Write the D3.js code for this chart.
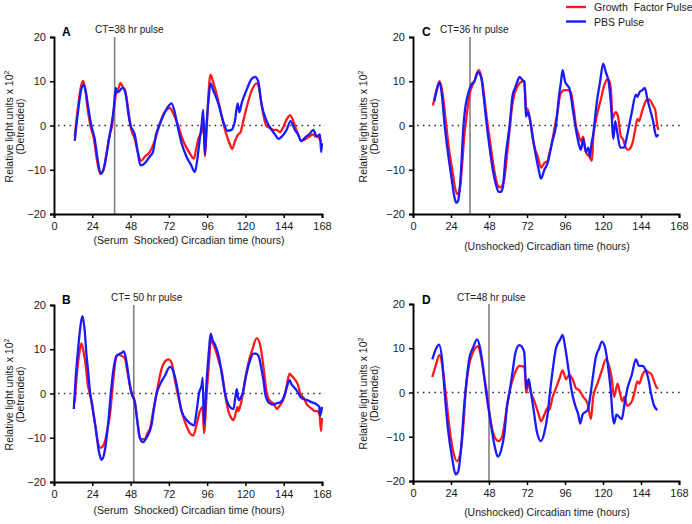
<!DOCTYPE html>
<html><head><meta charset="utf-8">
<script src="https://cdn.jsdelivr.net/npm/d3@7"></script>
<style>
html,body{margin:0;padding:0;background:#fff;}
svg{display:block;font-family:"Liberation Sans",Arial,sans-serif;}
text{white-space:pre;}
</style></head>
<body><svg id="chart" width="692" height="524"></svg>
<script>
const seriesNames = ["Growth  Factor Pulse", "PBS Pulse"];
const seriesColors = ["#ff1a1a", "#1a1aff"];
const xTicks = [0, 24, 48, 72, 96, 120, 144, 168];
const yTicks = [-20, -10, 0, 10, 20];

const aGrowth = [[13,-2.4],[15,4],[17,9],[18.2,10.1],[19.5,8.5],[21,4],[22.8,0],[25,-3],[27,-8],[29,-10.9],[31,-10],[33,-6],[35,-2],[36.4,0],[38,5],[39,7.5],[40.5,8.5],[41.6,9.6],[43,8.8],[44.5,8],[46,5],[47.5,1],[48.5,-1],[50.6,-3],[52.5,-6],[54.6,-8],[57,-7],[60,-6],[62,-4.5],[63.5,-3],[66,0],[68.5,2.5],[70.5,3.5],[72.6,4],[75,2.5],[77.8,0],[80,-2.5],[83,-5],[85.5,-6.5],[87.7,-7.5],[89,-5.5],[90.5,-3],[92.5,-1.5],[93.8,0],[94.6,-7],[95.5,-2],[96.5,5],[98.1,11.5],[100,9.5],[102,7],[104,4],[106.5,0],[108.5,-2.5],[110,-4],[111.7,-5.3],[113.5,-3.5],[115.5,-2],[117,-1.5],[118,0],[120.7,4],[124,8],[127,9.5],[128.5,8.5],[130,5],[131.5,2],[133,0],[135,-0.5],[137.4,-1],[139.5,-1],[141.6,-1.5],[143.5,-0.5],[146,1.5],[148,2.3],[149.5,1.5],[151,0],[153,-2],[155,-3.5],[158,-3],[160,-2.5],[162.5,-2],[164,-2.5],[165.7,-2.5],[167,-3.5],[168,-3.5]];
const aPBS = [[13,-3.5],[15,3],[17,8],[18.6,9.2],[20,7.5],[21.5,4],[23.4,0],[25.5,-3],[27.5,-8],[29.3,-10.9],[31,-10],[33,-6.5],[34.5,-3],[36,0],[37.5,4],[38.7,8.5],[39.5,7.5],[41,7.8],[43,8.5],[45,7],[46.5,3],[48,0],[50.6,-2],[52.5,-6],[54.2,-9],[57,-8.5],[60,-7],[62,-6],[64,-2],[66,0],[69.5,3],[72,4.5],[73.6,5],[75.7,3],[77.4,0],[80,-4],[83,-7],[86,-9],[88.3,-10.5],[89.7,-8],[91.4,-3],[92.5,0],[93.5,3.5],[94.6,-6.5],[95.6,0],[96.7,5],[98.1,9.5],[99.8,8],[103,5],[106,1],[108.8,-1.2],[111.3,-1],[113.4,1],[115.1,5],[116.2,3],[117.6,5],[120.7,8],[123.8,10.5],[126,11],[128,10],[130,5],[133.3,1],[136.4,-1],[138.5,-2],[140.6,-3],[142.8,-2.5],[145.8,-1],[148.3,1],[151,-1],[153,-2],[155,-3.5],[158,-2.5],[160,-2],[162.5,-1],[164.8,-2.5],[166.7,-2],[167.5,-6],[168,-4]];

const bGrowth = [[13,-2],[14.5,5],[16,9.5],[17.2,11.3],[18.5,9.5],[20,6],[21.2,2],[22.4,0],[24,-2.5],[25,-5],[26,-7.5],[27,-10],[29.1,-12.3],[30.5,-12],[31.8,-11],[33.5,-8],[35,-5],[36.4,0],[37.7,5],[39.2,8.5],[41,8.8],[42.3,8.5],[44.4,8],[45.5,6],[46.5,4],[48,1],[49,0],[50.7,-2],[52.2,-6],[53.8,-10],[55.5,-10.3],[57,-10.3],[58.5,-9],[60.1,-8],[62.2,-4],[64.3,0],[66.4,4],[67.8,6],[69.1,7],[71.6,7.7],[73.7,7],[75.8,3],[77.5,0],[80,-4],[82.7,-7],[85.3,-9],[87.3,-9.5],[89.4,-7],[91.5,-4],[93.2,-3],[94,-9],[95.7,0],[97.4,8],[98.2,12],[100,11],[102,9],[103.5,7],[105.2,5],[107.2,0],[109.3,-4],[111,-5.5],[112.5,-6],[113.5,-5],[114.2,-4],[115,-3],[115.6,-4],[117,-2.5],[118.4,0],[120.2,4],[121.9,7],[124.4,10],[127.1,12.5],[129.2,11],[131.3,6],[133.4,0],[135,-1.5],[136.6,-2],[138,-2.5],[139.7,-3.5],[141,-3],[142.9,-2],[145,0],[146.5,3],[147.7,4.5],[149,4],[150.2,3.5],[152.9,2],[154.4,0],[156.5,-1],[158.6,-2.5],[160,-3],[161.7,-3.5],[163.8,-4],[165,-4],[166.5,-5],[167.4,-8.5],[168,-5.5]];
const bPBS = [[12.4,-3.5],[13.5,3],[15.1,10],[16.5,15],[17.8,17.5],[19.3,14],[20.3,9],[21.4,5],[22.4,1],[24,-3],[26.2,-8],[28.1,-13],[29.7,-15],[30.8,-14.5],[31.8,-13],[33.9,-7],[35.6,0],[37.1,5],[39.2,8.5],[41.3,9],[42.5,9.2],[43.8,9.5],[45.5,7],[47.1,3],[48.6,0],[50.7,-2],[52.5,-7],[53.8,-10],[55.9,-11],[58,-10],[61.2,-7],[62.8,-3],[64.3,0],[66.4,2],[69.5,4],[72.7,6],[74.8,5],[76.9,2],[77.9,0],[80,-4],[83.2,-6],[86.3,-7],[87.8,-7.2],[89.4,-4],[90.9,0],[92.6,2],[93.2,3.5],[94,-7],[95.7,3],[97.2,10],[98.2,13.5],[99.5,12],[101,11],[103.5,8],[105.8,3],[107.2,0],[109.3,-2.5],[111,-3.3],[112.5,-3.5],[113.6,-1],[114.6,1],[115.4,-1],[116,-1.5],[117,-1],[118.2,0],[120.4,4],[122.5,7],[125,9],[126.5,9],[128.2,8.5],[129.8,6],[131.3,3],[132.4,0],[134.5,-2],[137.6,-2.5],[139.5,-2.2],[141.8,-2],[143.9,-1],[146,1.5],[147.7,3],[149,2],[150.2,1.5],[152.5,0.5],[155,-1],[158.6,-1.5],[161.7,-2],[164.8,-2.5],[166.2,-3],[166.9,-5],[168,-3]];

const cGrowth = [[12.6,4.5],[14.5,7.5],[16.8,10],[18.8,7],[21,0],[23,-6],[24.8,-10],[26.5,-14],[28,-15.5],[29.5,-14.5],[31,-9],[32.5,-2],[33.5,1],[35.7,7],[37.5,9],[38.8,10],[40,11.5],[41.6,12.5],[42.8,11.5],[43.7,10],[44.8,7],[45.8,4],[47.2,0],[48.8,-4],[50.4,-8],[52,-11.5],[53.5,-13.5],[55,-14],[56.5,-13.5],[57.7,-12],[59,-8],[59.9,-5],[61.3,0],[62.5,4],[64,7],[65.5,8.5],[67.2,9.5],[69.3,10],[70.3,9.8],[71,6],[71.4,3],[72.2,3.8],[73,3],[74.1,1],[75.6,-3],[77.2,-5.5],[78.8,-7],[80.8,-9.5],[82,-9],[83,-8.5],[85,-8],[86,-6.5],[87.1,-5],[89.2,-1],[91.3,3],[93,7],[95.5,8],[97.6,8],[99.7,7.5],[101,5],[101.8,3],[102.9,0],[104.5,-2],[106,-3.5],[107.5,-2.5],[108.2,-4],[109.2,-6],[111.3,-7],[113,-8],[113.8,-3],[116,2],[118.7,6],[120.7,9],[122.9,10.5],[124,10],[125,8],[126,1.5],[127,2.5],[128,3],[129.5,2],[131.3,-2.5],[132.5,-3],[134.4,-5],[136,-5.5],[138.6,-4],[140.3,-1],[141.7,1.5],[142.8,1],[144.5,3],[146.4,5],[148,6],[150.2,5.5],[151.6,4.5],[153,3.5],[154.3,0],[155,-1]];
const cPBS = [[13.5,5.5],[15,8],[16.8,9.8],[18.5,6],[20,0],[22,-6],[24,-11],[25.8,-15.5],[27.3,-17.5],[28.5,-17],[30,-12],[31.9,0],[33,4],[34.7,7],[36,8.5],[37.4,9.5],[38.8,10],[41,12],[43,11],[44.5,7],[45.4,4],[46.6,0],[48,-4],[50.4,-10],[52.5,-13.5],[54,-15],[55.5,-15],[56.7,-14],[58.5,-7],[61,0],[63,7],[64.5,8.5],[66,10],[67.2,11],[69.3,10.2],[70.3,10],[71,5],[71.4,2],[72.6,3],[74.5,0],[76.7,-5],[79.4,-10],[80.8,-12],[83,-10],[85,-8.5],[87.7,-4],[90.3,0],[92,6],[93.5,10],[94.5,12.5],[96,10],[97.6,9],[98.7,8.5],[101.2,3],[102.5,0],[104,-3],[106,-5.5],[107.5,-3],[109.2,-6],[110.7,-5],[111.7,-7],[112.8,-4],[113.8,-2],[116,5],[118.2,10],[120.1,14],[121.8,12],[123.5,10],[125,5],[126.6,-3],[127.7,1],[129.2,-2],[130.9,-5],[133.3,-5],[134.8,-3],[136.5,0],[138.2,3],[140.7,7],[141.8,6.5],[143,7.5],[144.9,8],[146.4,8.5],[148,6],[150.2,3],[151.6,1],[153.7,-2.5],[155,-2]];

const dGrowth = [[12.2,3.5],[14.3,6],[16.8,8.5],[18.9,5],[20.6,0],[22.7,-7],[25.2,-13],[27.7,-15.5],[29.8,-14],[31.9,-7],[33.2,0],[35.3,6],[37.8,9],[41,10.5],[43,8],[45.2,3],[46.6,0],[49.3,-7],[51.5,-10],[54,-11],[56.3,-10],[57.8,-7],[59.4,-3],[60.9,0],[63,3],[65.1,5],[67.2,6],[70.3,5.8],[71,3],[71.4,0],[73.1,2],[74.5,0],[76.7,-2],[79.4,-5],[80.8,-6.5],[83,-5],[85,-3.5],[86,-4],[88.2,-1],[90.3,1],[92.4,3],[94.5,5],[96.6,3],[98.7,4],[100.8,3],[102.9,1],[105,0.5],[107.5,-1],[110.3,-2.5],[112.4,-6],[113.8,-1],[116.5,2],[119.3,5],[121.8,7.5],[123.9,6],[125.6,3],[127,-1],[129.2,2],[130.6,0],[132.3,-2],[133.4,-1],[135.4,-3],[138.2,-2],[139.9,0],[141.7,2.5],[142.8,2],[144.9,4],[147,5],[149.1,4.5],[150.8,4],[152.3,2.5],[154.3,1],[155,1]];
const dPBS = [[12.2,7.5],[14.7,10],[16.4,10.8],[18.5,7],[20,0],[22,-8],[24.8,-15],[26.9,-18.5],[28.4,-18],[30.5,-12],[32.1,-4],[33.6,2],[35.7,8],[37.8,10],[40.5,12],[42.4,10],[44.5,5],[46.2,0],[48.3,-5],[51.5,-12],[53.6,-14.5],[55.7,-13],[57.8,-9],[59.4,-3],[60.9,0],[63,5],[64.7,9],[67.2,10.7],[69.3,10],[70.3,9],[71.4,1],[73.1,3],[74.5,0],[76.2,-4],[78.3,-9],[80.8,-11],[83,-9],[85,-5],[86.5,0],[88.2,5],[90.3,10],[93,12],[94.5,13],[96.2,10],[98.3,5],[100.4,0],[102.5,-3],[104.4,-5],[105.6,-7],[107.1,-5],[108.5,-4.5],[110.3,-4],[111.9,-1],[113.4,3],[115.5,8],[117.6,10],[119.3,11.5],[121.4,10],[123.5,5],[125,0],[126,-5],[127,-7],[128.5,-5],[130.2,-5.5],[131.9,-6],[133.4,-3],[135.5,1],[138.2,4],[140.7,7.5],[142.8,6],[144.9,6],[147,5],[148.7,3],[150.2,0],[152.3,-3],[154.3,-4]];

const panelLetters = ["A", "B", "C", "D"];
const pulseTimes = [38, 50, 36, 48];
const pulseLabels = ["CT=38 hr pulse", "CT= 50 hr pulse", "CT=36 hr pulse", "CT=48 hr pulse"];
const xTitles = ["(Serum  Shocked) Circadian time (hours)", "(Serum  Shocked) Circadian time (hours)", "(Unshocked) Circadian time (hours)", "(Unshocked) Circadian time (hours)"];
const panelSeries = [[aGrowth, aPBS], [bGrowth, bPBS], [cGrowth, cPBS], [dGrowth, dPBS]];

// layout (pixel boxes)
const boxes = [
  {x0: 54, x1: 322, y0: 37, y1: 214, labX: 95, letX: 62, ytX: 13, xtDy: 30, pulseLabY: 33},
  {x0: 54, x1: 322, y0: 305, y1: 482, labX: 111, letX: 62, ytX: 13, xtDy: 32, pulseLabY: 301},
  {x0: 413, x1: 679, y0: 37, y1: 214, labX: 440, letX: 422, ytX: 367, xtDy: 36, pulseLabY: 33},
  {x0: 413, x1: 679, y0: 304, y1: 481, labX: 457, letX: 422, ytX: 367, xtDy: 35, pulseLabY: 301}
];

const textColor = "#1a1a1a";
const svg = d3.select("#chart");

boxes.forEach((b, i) => {
  const x = d3.scaleLinear().domain([0, 168]).range([b.x0, b.x1]);
  const y = d3.scaleLinear().domain([-20, 20]).range([b.y1, b.y0]);
  const g = svg.append("g");

  // zero dotted line
  g.append("line").attr("x1", x(0) + 4).attr("x2", x(168) + 3)
    .attr("y1", y(0)).attr("y2", y(0))
    .attr("stroke", "#333").attr("stroke-width", 1.6).attr("stroke-dasharray", "1.6,4.2");

  // pulse line
  g.append("line").attr("x1", x(pulseTimes[i])).attr("x2", x(pulseTimes[i]))
    .attr("y1", y(20)).attr("y2", y(-20))
    .attr("stroke", "#808080").attr("stroke-width", 1.6);

  // series
  const line = d3.line().x(d => x(d[0])).y(d => y(d[1])).curve(d3.curveMonotoneX);
  panelSeries[i].forEach((s, k) => {
    g.append("path").datum(s).attr("d", line)
      .attr("fill", "none").attr("stroke", seriesColors[k])
      .attr("stroke-width", 2.3).attr("stroke-linejoin", "round");
  });

  // axes
  const xa = g.append("g").attr("transform", `translate(0,${b.y1})`)
    .call(d3.axisBottom(x).tickValues(xTicks).tickSize(4).tickPadding(4));
  const ya = g.append("g").attr("transform", `translate(${b.x0},0)`)
    .call(d3.axisLeft(y).tickValues(yTicks).tickSize(4).tickPadding(4));
  [xa, ya].forEach(a => {
    a.select(".domain").attr("stroke", "#000").attr("stroke-width", 1.9);
    a.selectAll(".tick line").attr("stroke", "#000").attr("stroke-width", 1.5);
    a.selectAll(".tick text").attr("fill", textColor).style("font-size", "11px")
      .style("font-family", "'Liberation Sans', Arial, sans-serif");
  });

  // x title
  g.append("text").attr("x", (b.x0 + b.x1) / 2 + 1).attr("y", b.y1 + b.xtDy)
    .attr("text-anchor", "middle").attr("fill", textColor).style("font-size", "10.5px").text(xTitles[i]);

  // y title
  const cy = (b.y0 + b.y1) / 2 + 1;
  const yt = g.append("text").attr("transform", `translate(${b.ytX},${cy}) rotate(-90)`)
    .attr("text-anchor", "middle").attr("fill", textColor).style("font-size", "10.5px");
  yt.append("tspan").attr("x", 0).attr("dy", 0).text("Relative light units x 10");
  yt.append("tspan").attr("dy", -4).style("font-size", "7px").text("2");
  g.append("text").attr("transform", `translate(${b.ytX + 11},${cy}) rotate(-90)`)
    .attr("text-anchor", "middle").attr("fill", textColor).style("font-size", "10.5px").text("(Detrended)");

  // letter
  g.append("text").attr("x", b.letX).attr("y", b.pulseLabY + 3)
    .style("font-size", "12px").style("font-weight", "bold").text(panelLetters[i]);
  // pulse label
  g.append("text").attr("x", b.labX).attr("y", b.pulseLabY).attr("fill", textColor)
    .style("font-size", "10px").text(pulseLabels[i]);
});

// legend
const leg = svg.append("g");
seriesNames.forEach((n, k) => {
  const ly = 7 + k * 14.5;
  leg.append("line").attr("x1", 566).attr("x2", 586).attr("y1", ly).attr("y2", ly)
    .attr("stroke", seriesColors[k]).attr("stroke-width", 2.4);
  leg.append("text").attr("x", 594).attr("y", ly + 4).attr("fill", textColor)
    .style("font-size", "10.5px").text(n);
});
</script>
</body></html>
